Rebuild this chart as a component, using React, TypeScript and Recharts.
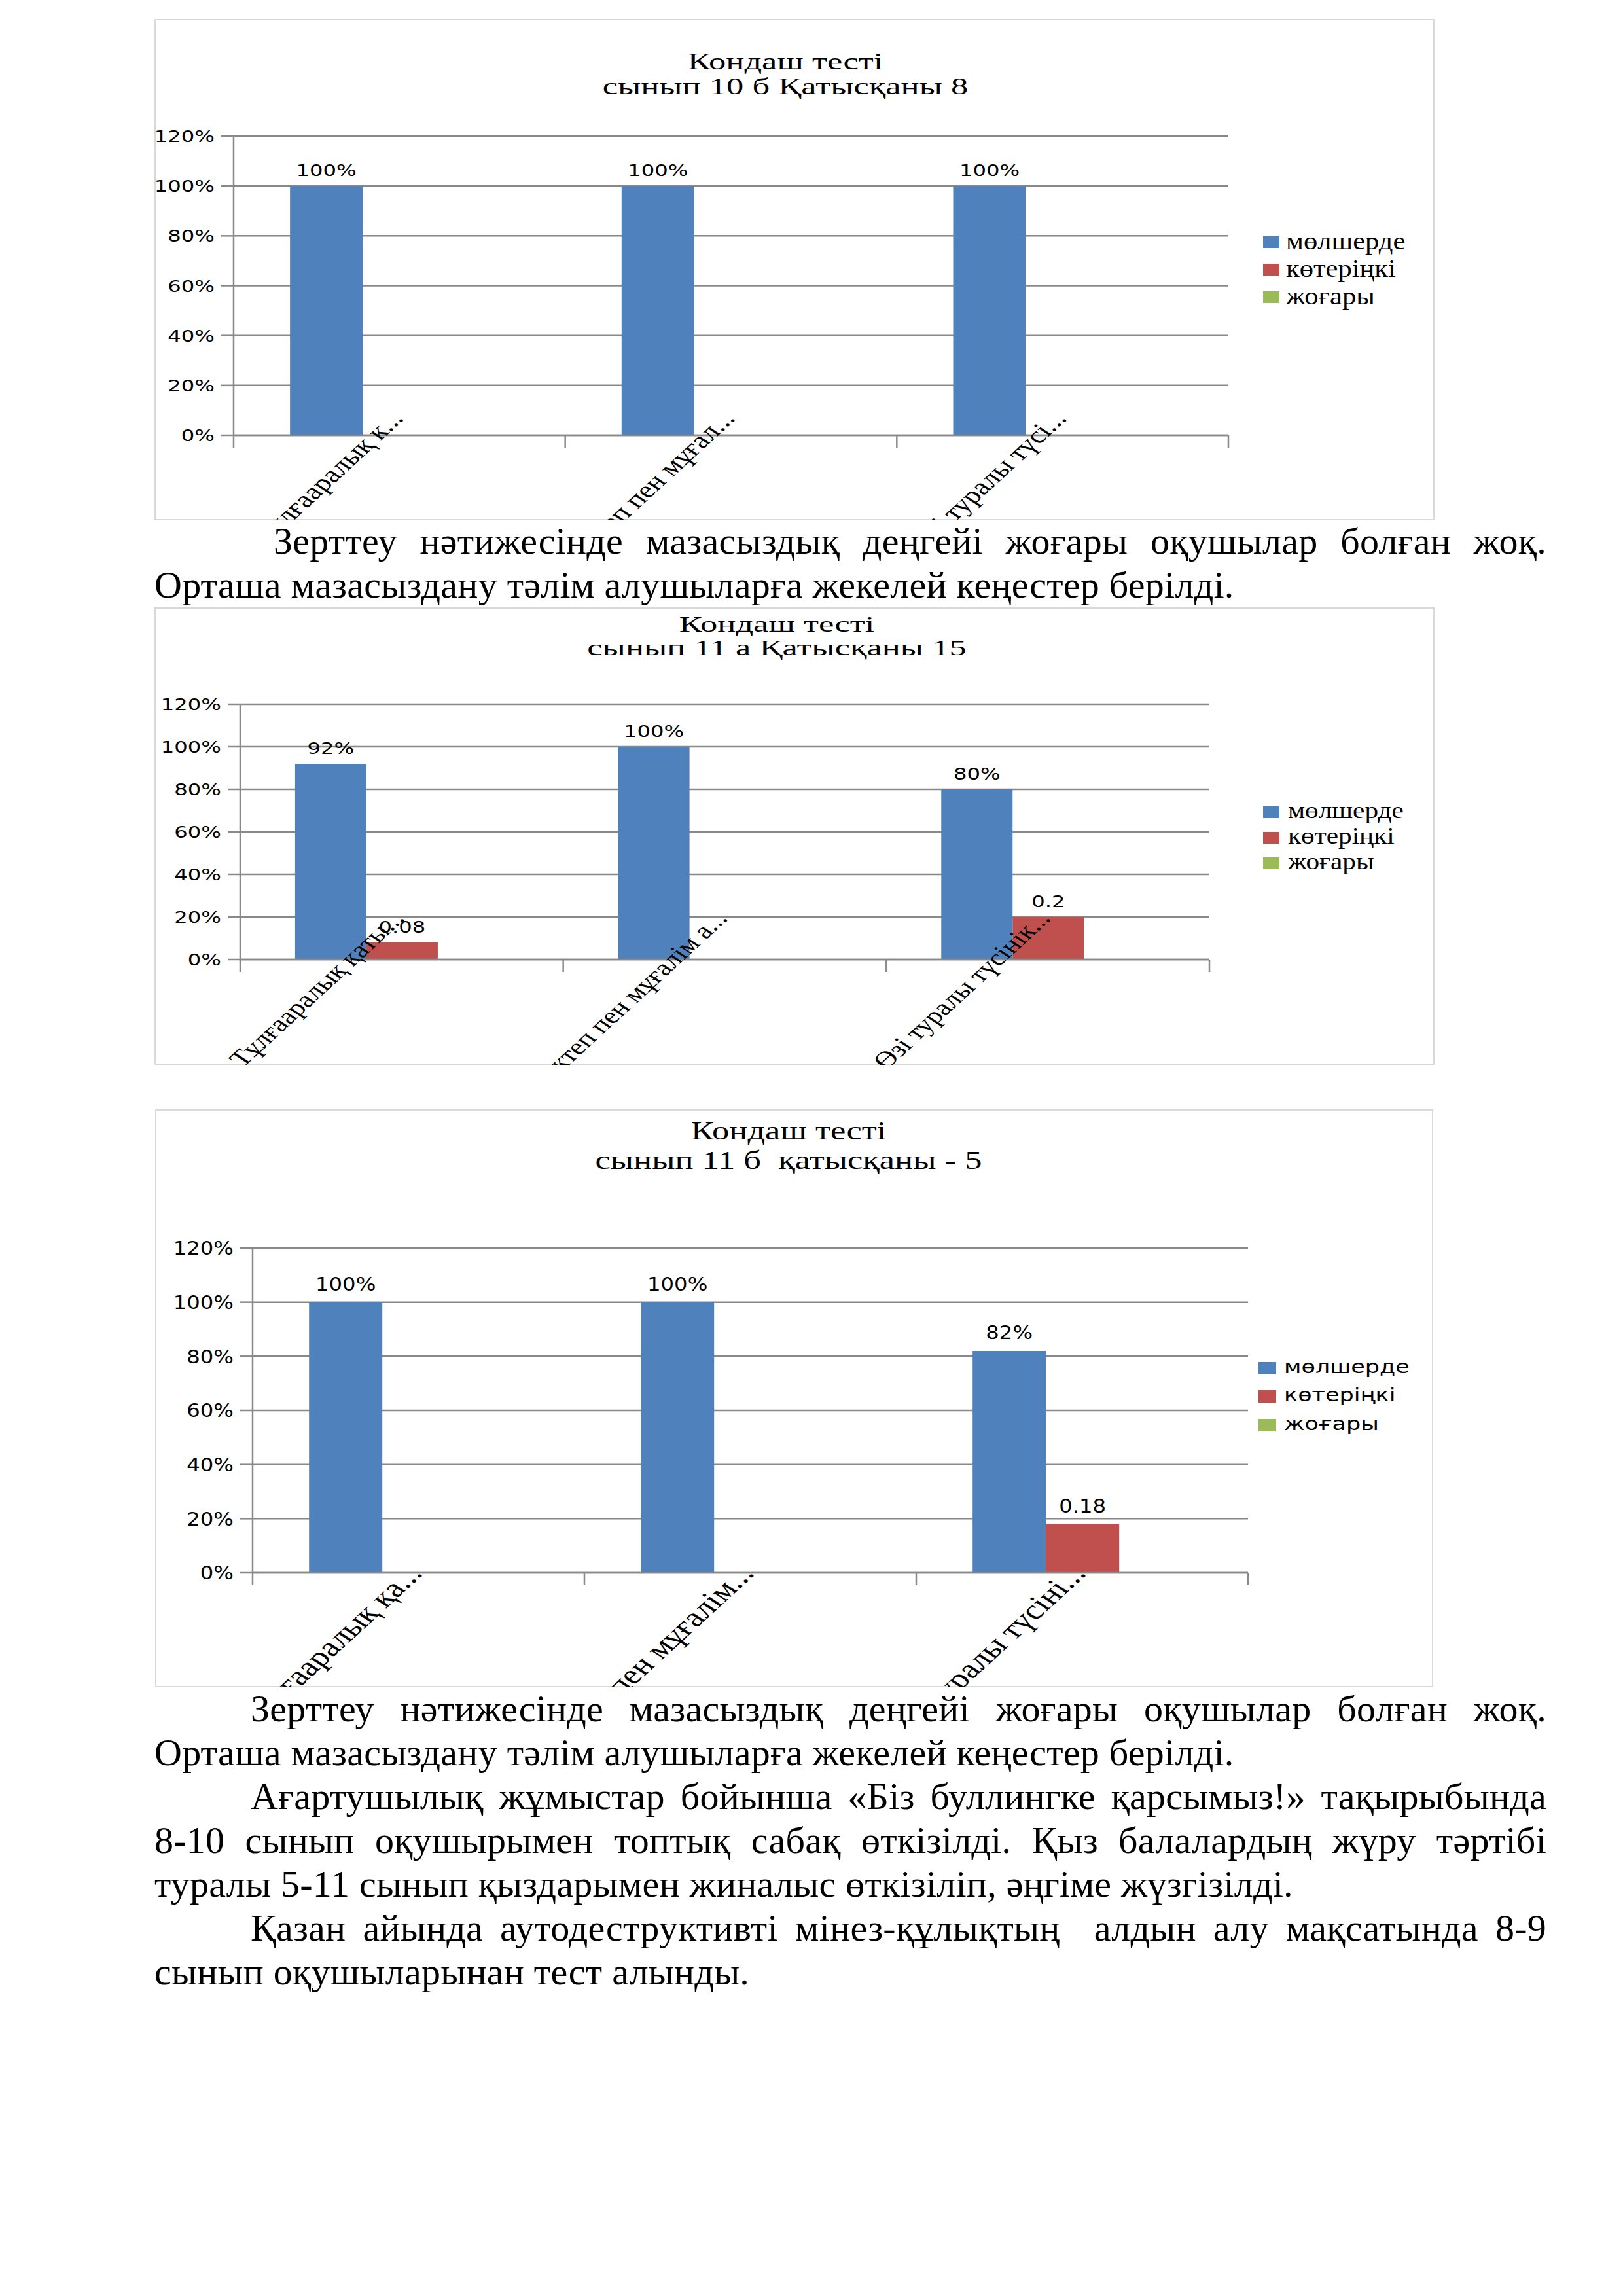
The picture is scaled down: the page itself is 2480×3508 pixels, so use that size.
import React from 'react';
import { BarChart, Bar, XAxis, YAxis, CartesianGrid, LabelList } from 'recharts';

// series
const SERIES_NAMES = ['мөлшерде', 'көтеріңкі', 'жоғары'];
const SERIES_KEYS = ['m', 'k', 'z'];
const SERIES_COLORS = ['#4f81bd', '#c0504d', '#9bbb59'];

const Y_TICKS = [0, 0.2, 0.4, 0.6, 0.8, 1, 1.2];

// 10 б
const CATS_10B = ['Тұлғааралық к...', 'Мектеп пен мұғал...', 'Өзі туралы түсі...'];
const M_10B = [1, 1, 1];
const K_10B = [0, 0, 0];
const Z_10B = [0, 0, 0];

// 11 а
const CATS_11A = ['Тұлғааралық қаты...', 'Мектеп пен мұғалім а...', 'Өзі туралы түсінік...'];
const M_11A = [0.92, 1, 0.8];
const K_11A = [0.08, 0, 0.2];
const Z_11A = [0, 0, 0];

// 11 б
const CATS_11B = ['Тұлғааралық қа...', 'Мектеп пен мұғалім...', 'Өзі туралы түсіні...'];
const M_11B = [1, 1, 0.82];
const K_11B = [0, 0, 0.18];
const Z_11B = [0, 0, 0];

const buildData = (cats: string[], m: number[], k: number[], z: number[]) =>
  cats.map((cat, i) => ({ cat, m: m[i], k: k[i], z: z[i] }));

const GRID = '#898989';
const SERIF = '"Liberation Serif", "Times New Roman", serif';
const SANS = '"DejaVu Sans", sans-serif';

// horizontal stretch of the pasted chart pictures
const S_TICK = 1.29;
const S_TITLE = 1.5;
const S_LEGEND = 1.15;
const S_XLAB = 1.3;

const CHARTS = [
  {
    title: ['Кондаш тесті', 'сынып 10 б Қатысқаны 8'],
    data: buildData(CATS_10B, M_10B, K_10B, Z_10B),
    box: { l: 236, t: 29, r: 2192, b: 795 },
    axisX: 357, plotR: 1877, y120: 208, y0: 665,
    titleX: 1200, titleY: [94, 132],
    legend: { sqX: 1930, textX: 1965, ys: [370, 412, 454], sq: [25, 18], sans: false },
    labelDx: 8, labelDy: -25, labelGap: 15, fs: 1,
  },
  {
    title: ['Кондаш тесті', 'сынып 11 а Қатысқаны 15'],
    data: buildData(CATS_11A, M_11A, K_11A, Z_11A),
    box: { l: 236, t: 928, r: 2192, b: 1627 },
    axisX: 367, plotR: 1848, y120: 1076, y0: 1466,
    titleX: 1187, titleY: [954, 990],
    legend: { sqX: 1930, textX: 1968, ys: [1241, 1280, 1319], sq: [25, 18], sans: false },
    labelDx: 6, labelDy: -62, labelGap: 15, fs: 0.97,
  },
  {
    title: ['Кондаш тесті', 'сынып 11 б  қатысқаны - 5'],
    data: buildData(CATS_11B, M_11B, K_11B, Z_11B),
    box: { l: 237, t: 1695, r: 2190, b: 2578 },
    axisX: 386, plotR: 1907, y120: 1907, y0: 2403,
    titleX: 1205, titleY: [1728, 1773],
    legend: { sqX: 1923, textX: 1962, ys: [2090, 2133, 2177], sq: [27, 19], sans: true },
    labelDx: 8, labelDy: 2, labelGap: 18, fs: 1.15,
  },
];

const pct = (v: number) => `${Math.round(v * 100)}%`;

function KondashChart({ cfg }: { cfg: any }) {
  const { box, fs } = cfg;
  const W = box.r - box.l;
  const H = box.b - box.t;
  const bandW = (cfg.plotR - cfg.axisX) / cfg.data.length;
  const y0Local = cfg.y0 - box.t;
  const lastCat = cfg.data[cfg.data.length - 1].cat;
  const tickFont = 25 * fs;

  const YTick = (props: any) => {
    const { x, y, payload } = props;
    return (
      <g transform={`translate(${x},${y}) scale(${S_TICK / fs},1)`}>
        <text textAnchor="end" dy="0.36em" fontFamily={SANS} fontSize={tickFont} fill="#000">
          {pct(payload.value)}
        </text>
      </g>
    );
  };

  const XTick = (props: any) => {
    const { x, payload } = props;
    const left = x - bandW / 2;
    const right = x + bandW / 2;
    return (
      <g>
        <line x1={left} x2={left} y1={y0Local} y2={y0Local + 19} stroke={GRID} strokeWidth={2.5} />
        {payload.value === lastCat && (
          <line x1={right} x2={right} y1={y0Local} y2={y0Local + 19} stroke={GRID} strokeWidth={2.5} />
        )}
        <text
          transform={`translate(${x + cfg.labelDx},${y0Local + cfg.labelDy}) scale(${S_XLAB},1) rotate(-50)`}
          textAnchor="end"
          fontFamily={SERIF}
          fontSize={36 * fs}
          fill="#000"
        >
          {payload.value}
        </text>
      </g>
    );
  };

  const makeLabel = (asPercent: boolean) => (props: any) => {
    const { x, y, width, value } = props;
    if (!value) return null;
    const cx = Number(x) + Number(width) / 2;
    const by = Number(y) - cfg.labelGap;
    return (
      <g transform={`translate(${cx},${by}) scale(${S_TICK / fs},1)`}>
        <text textAnchor="middle" fontFamily={SANS} fontSize={tickFont} fill="#000">
          {asPercent ? pct(value) : String(value)}
        </text>
      </g>
    );
  };

  return (
    <div
      style={{
        position: 'absolute',
        left: box.l,
        top: box.t,
        width: W,
        height: H,
        overflow: 'hidden',
        boxShadow: 'inset 0 0 0 2px #d9d9d9',
      }}
    >
      <BarChart
        width={W}
        height={H}
        data={cfg.data}
        margin={{ top: cfg.y120 - box.t, right: box.r - cfg.plotR, bottom: 0, left: 0 }}
        barCategoryGap="17%"
        barGap={0}
      >
        <CartesianGrid vertical={false} stroke={GRID} strokeWidth={2.5} />
        <XAxis
          dataKey="cat"
          height={box.b - cfg.y0}
          interval={0}
          axisLine={{ stroke: GRID, strokeWidth: 2.5 }}
          tickLine={false}
          tick={<XTick />}
        />
        <YAxis
          type="number"
          domain={[0, 1.2]}
          ticks={Y_TICKS}
          width={cfg.axisX - box.l}
          axisLine={{ stroke: GRID, strokeWidth: 2.5 }}
          tickLine={{ stroke: GRID, strokeWidth: 2.5 }}
          tickSize={19}
          tickMargin={10}
          tick={<YTick />}
        />
        {SERIES_KEYS.map((key, i) => (
          <Bar key={key} dataKey={key} fill={SERIES_COLORS[i]} isAnimationActive={false}>
            {i < 2 && <LabelList dataKey={key} content={makeLabel(i === 0)} />}
          </Bar>
        ))}
      </BarChart>

      {cfg.title.map((line: string, i: number) => (
        <div
          key={i}
          style={{
            position: 'absolute',
            left: cfg.titleX - box.l,
            top: cfg.titleY[i] - box.t,
            transform: `translate(-50%, -50%) scaleX(${S_TITLE / fs})`,
            fontFamily: SERIF,
            fontSize: 35 * fs,
            lineHeight: 1,
            whiteSpace: 'pre',
            color: '#000',
          }}
        >
          {line}
        </div>
      ))}

      {SERIES_NAMES.map((name, i) => (
        <React.Fragment key={name}>
          <div
            style={{
              position: 'absolute',
              left: cfg.legend.sqX - box.l,
              top: cfg.legend.ys[i] - box.t - cfg.legend.sq[1] / 2,
              width: cfg.legend.sq[0],
              height: cfg.legend.sq[1],
              background: SERIES_COLORS[i],
            }}
          />
          <div
            style={{
              position: 'absolute',
              left: cfg.legend.textX - box.l,
              top: cfg.legend.ys[i] - box.t,
              transform: `translateY(-55%) scaleX(${cfg.legend.sans ? 1.25 : S_LEGEND})`,
              transformOrigin: 'left center',
              fontFamily: cfg.legend.sans ? SANS : SERIF,
              fontSize: cfg.legend.sans ? 28 : 37 * fs,
              lineHeight: 1,
              whiteSpace: 'nowrap',
              color: '#000',
            }}
          >
            {name}
          </div>
        </React.Fragment>
      ))}
    </div>
  );
}

// body text lines: [text, baseline, indent, justified]
const TEXT_LINES: [string, number, number, boolean][] = [
  ['Зерттеу нәтижесінде мазасыздық деңгейі жоғары оқушылар болған жоқ.', 846, 182, true],
  ['Орташа мазасыздану тәлім алушыларға жекелей кеңестер берілді.', 913, 0, false],
  ['Зерттеу нәтижесінде мазасыздық деңгейі жоғары оқушылар болған жоқ.', 2630, 147, true],
  ['Орташа мазасыздану тәлім алушыларға жекелей кеңестер берілді.', 2697, 0, false],
  ['Ағартушылық жұмыстар бойынша «Біз буллингке қарсымыз!» тақырыбында', 2764, 147, true],
  ['8-10 сынып оқушырымен топтық сабақ өткізілді. Қыз балалардың жүру тәртібі', 2831, 0, true],
  ['туралы 5-11 сынып қыздарымен жиналыс өткізіліп, әңгіме жүзгізілді.', 2898, 0, false],
  ['Қазан айында аутодеструктивті мінез-құлықтың  алдын алу мақсатында 8-9', 2965, 147, true],
  ['сынып оқушыларынан тест алынды.', 3032, 0, false],
];

const TEXT_LEFT = 236;
const TEXT_RIGHT = 2363;

export default function App() {
  return (
    <div
      style={{
        position: 'absolute',
        left: 0,
        top: 0,
        width: 2480,
        height: 3508,
        background: '#fff',
        overflow: 'hidden',
      }}
    >
      {CHARTS.map((cfg, i) => (
        <KondashChart key={i} cfg={cfg} />
      ))}
      {TEXT_LINES.map(([text, base, indent, just], i) => (
        <div
          key={i}
          style={{
            position: 'absolute',
            left: TEXT_LEFT,
            top: base - 53,
            width: TEXT_RIGHT - TEXT_LEFT,
            paddingLeft: indent,
            boxSizing: 'border-box',
            fontFamily: SERIF,
            fontSize: 58,
            lineHeight: '67px',
            letterSpacing: 0.25,
            whiteSpace: 'pre',
            textAlign: just ? 'justify' : 'left',
            textAlignLast: just ? 'justify' : 'left',
            color: '#000',
          }}
        >
          {text}
        </div>
      ))}
    </div>
  );
}
